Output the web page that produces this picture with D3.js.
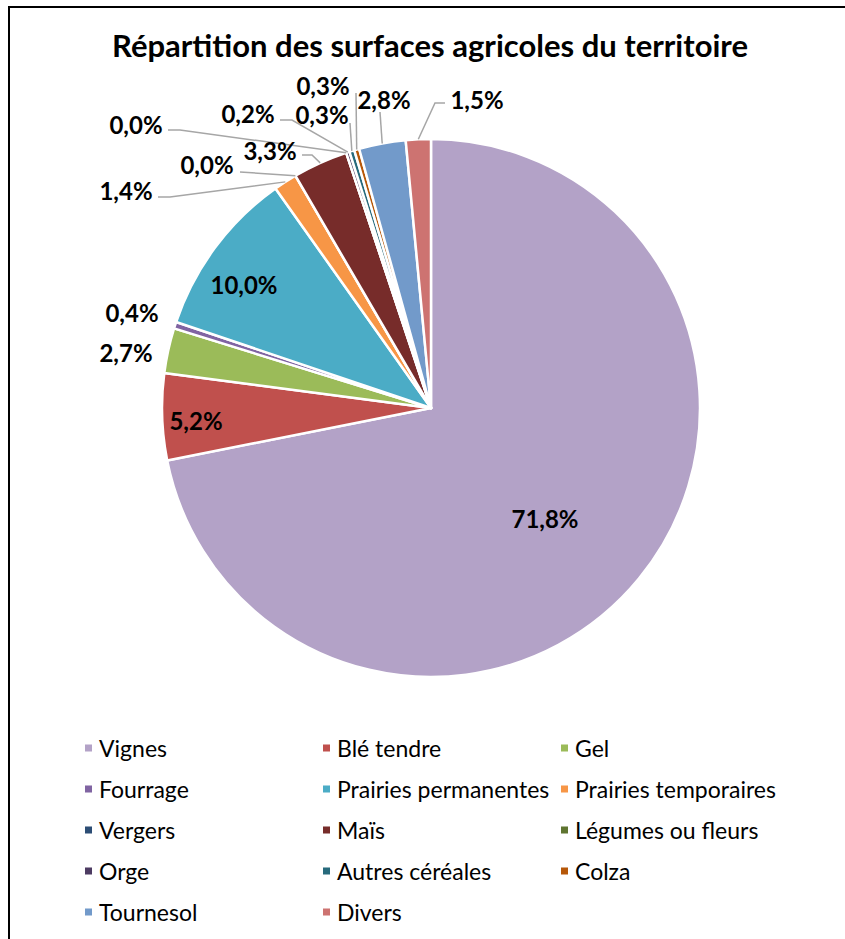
<!DOCTYPE html>
<html><head><meta charset="utf-8">
<script src="https://cdn.jsdelivr.net/npm/d3@7"></script>
<style>body{margin:0;background:#fff}</style>
</head><body><svg id="c" width="845" height="939"></svg>
<script>
const title = "Répartition des surfaces agricoles du territoire";
const categories = ["Vignes","Blé tendre","Gel","Fourrage","Prairies permanentes","Prairies temporaires","Vergers","Maïs","Légumes ou fleurs","Orge","Autres céréales","Colza","Tournesol","Divers"];
const values = [71.8, 5.2, 2.7, 0.4, 10.0, 1.4, 0.0, 3.3, 0.0, 0.2, 0.3, 0.3, 2.8, 1.5];
const colors = ["#B3A2C7","#C0504D","#9BBB59","#8064A2","#4BACC6","#F79646","#2C4D75","#772C2A","#5F7530","#4D3B62","#276A7C","#B65708","#729ACA","#CD7371"];

// label layout relative to pie centre: [labelX, labelY, leaderStartX, leaderStartY, elbowDx] (null = no leader)
const labelLayout = [
  [114, 110, null],
  [-235, 12, null],
  [-305, -56, null],
  [-299, -96, null],
  [-187, -124, null],
  [-305, -218, -273, -211, 12],
  [-224, -244, -191, -236, 0],
  [-161, -258, -129, -253, 10],
  [-295, -284, -263, -278, 12],
  [-183, -295, -151, -288, 12],
  [-109, -294, -81, -285, 0],
  [-108, -323, -75, -315, 0],
  [-47, -309, -51, -296, 0],
  [46, -309, 14, -305, -10]
];

const W = 845, H = 939;
const cx = 431, cy = 408, R = 269;
const svg = d3.select("#c");
const FONT = "Lato, 'Noto Sans', sans-serif";

// frame
svg.append("rect").attr("x", 9).attr("y", 7).attr("width", 900).attr("height", 1000)
  .attr("fill", "none").attr("stroke", "#000").attr("stroke-width", 2);

svg.append("text").attr("x", 430).attr("y", 57).attr("text-anchor", "middle")
  .attr("font-family", FONT).attr("font-weight", "bold")
  .attr("font-size", 31).attr("fill", "#000").text(title);

const data = categories.map((c, i) => ({cat: c, value: values[i], color: colors[i], i}));
const pie = d3.pie().sort(null).value(d => d.value).startAngle(0).endAngle(2 * Math.PI);
const arcs = pie(data);
const arc = d3.arc().innerRadius(0).outerRadius(R);

const g = svg.append("g").attr("transform", `translate(${cx},${cy})`);
g.selectAll("path.slice").data(arcs).join("path").attr("class", "slice")
  .attr("d", arc).attr("fill", d => d.data.color)
  .attr("stroke", "#fff").attr("stroke-width", 2.5).attr("stroke-linejoin", "round");

const fmt = v => d3.format(".1f")(v).replace(".", ",") + "%";

// leader lines
arcs.forEach((a, i) => {
  const L = labelLayout[i];
  if (L[2] === null) return;
  const mid = (a.startAngle + a.endAngle) / 2;
  const ex = R * Math.sin(mid), ey = -R * Math.cos(mid);
  const pts = [[L[2], L[3]]];
  if (L[4]) pts.push([L[2] + L[4], L[3]]);
  pts.push([ex, ey]);
  g.append("path").attr("d", d3.line()(pts)).attr("fill", "none")
    .attr("stroke", "#A6A6A6").attr("stroke-width", 1.5);
});

g.selectAll("text.lbl").data(arcs).join("text").attr("class", "lbl")
  .attr("x", (d, i) => labelLayout[i][0]).attr("y", (d, i) => labelLayout[i][1])
  .attr("text-anchor", "middle").attr("dominant-baseline", "central")
  .attr("font-family", FONT).attr("font-weight", "bold")
  .attr("font-size", 24).attr("fill", "#000")
  .text(d => fmt(d.data.value));

// legend
const colX = [85, 323, 561], row0 = 748, rowH = 41;
const lg = svg.append("g");
data.forEach((d, i) => {
  const col = i % 3, row = Math.floor(i / 3);
  const x = colX[col], y = row0 + row * rowH;
  lg.append("rect").attr("x", x).attr("y", y - 3.5).attr("width", 7).attr("height", 7).attr("fill", d.color);
  lg.append("text").attr("x", x + 14).attr("y", y).attr("dominant-baseline", "central")
    .attr("font-family", FONT).attr("font-size", 23).attr("fill", "#000")
    .text(d.cat);
});
</script>
</body></html>
